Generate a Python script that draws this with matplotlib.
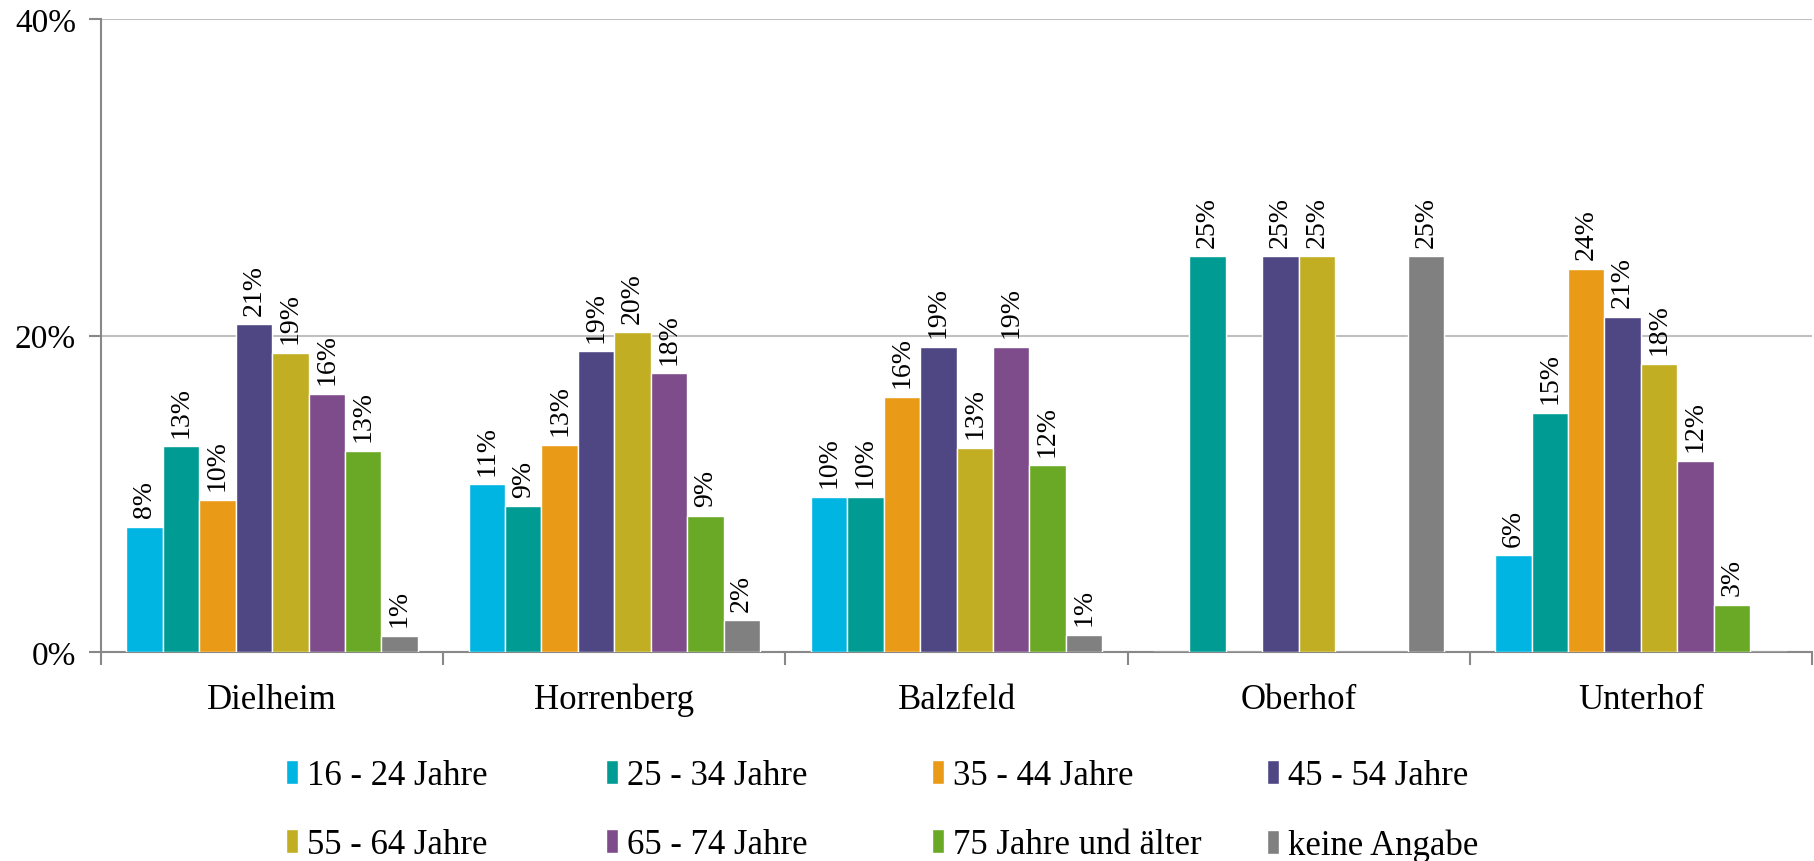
import numpy as np
import matplotlib.pyplot as plt

plt.rcParams['font.family'] = ['Liberation Serif', 'DejaVu Serif']

# data (percent)
orte = ['Dielheim', 'Horrenberg', 'Balzfeld', 'Oberhof', 'Unterhof']
gruppen = ['16 - 24 Jahre', '25 - 34 Jahre', '35 - 44 Jahre', '45 - 54 Jahre',
           '55 - 64 Jahre', '65 - 74 Jahre', '75 Jahre und älter', 'keine Angabe']
j16_24 = [7.9, 10.6, 9.8, 0, 6.1]
j25_34 = [13.0, 9.2, 9.8, 25.0, 15.1]
j35_44 = [9.6, 13.1, 16.1, 0, 24.2]
j45_54 = [20.7, 19.0, 19.3, 25.0, 21.2]
j55_64 = [18.9, 20.2, 12.9, 25.0, 18.2]
j65_74 = [16.3, 17.6, 19.3, 0, 12.1]
j75 = [12.7, 8.6, 11.8, 0, 3.0]
keine = [1.0, 2.0, 1.1, 25.0, 0]
werte = [j16_24, j25_34, j35_44, j45_54, j55_64, j65_74, j75, keine]

farben = ['#00B5E2', '#009C94', '#E99B18', '#4F4783',
          '#C2AE22', '#7E4B8B', '#6AA925', '#808080']

W, H = 1814, 862
fig = plt.figure(figsize=(W / 100, H / 100), dpi=100)
ax = fig.add_axes([101 / W, 1 - 653 / H, (1812 - 101) / W, (653 - 20) / H])

x = np.arange(len(orte))
breite = 0.1064
handles = []
for i, (vals, col) in enumerate(zip(werte, farben)):
    pos = x + (i - 3.5) * breite
    bars = ax.bar(pos, vals, breite, color=col, edgecolor='white', linewidth=1, zorder=3)
    handles.append(bars)
    for p, v in zip(pos, vals):
        if v > 0:
            ax.annotate('%d%%' % round(v), (p, v), xytext=(0, 7), textcoords='offset points',
                        rotation=90, ha='center', va='bottom', fontsize=20)

ax.set_xlim(-0.5, 4.5)
ax.set_ylim(0, 40)
ax.set_yticks([0, 20, 40])
ax.set_yticklabels(['0%', '20%', '40%'], fontsize=24)
ax.yaxis.grid(True, color='#c0c0c0', linewidth=1.5, zorder=0)
ax.set_axisbelow(True)

ax.set_xticks(x)
ax.set_xticklabels(orte, fontsize=25)
ax.tick_params(axis='x', which='major', length=0, pad=22)
ax.set_xticks(np.arange(-0.5, 5), minor=True)
ax.tick_params(axis='x', which='minor', length=9, width=1.5, color='#888888')
ax.tick_params(axis='y', length=9, width=1.5, color='#888888', pad=9)

for s in ['top', 'right']:
    ax.spines[s].set_visible(False)
for s in ['left', 'bottom']:
    ax.spines[s].set_color('#888888')
    ax.spines[s].set_linewidth(1.5)

# legend: 4 columns with 2 rows each
spalten_x = [286, 606, 932, 1267]
for k in range(4):
    fig.legend([handles[k], handles[k + 4]], [gruppen[k], gruppen[k + 4]],
               loc='upper left', bbox_to_anchor=(spalten_x[k] / W, 1 - 760 / H),
               frameon=False, fontsize=25, ncol=1, handlelength=0.35, handleheight=0.7,
               handletextpad=0.25, labelspacing=1.05, borderpad=0, borderaxespad=0)

plt.savefig('out.png', dpi=100)
